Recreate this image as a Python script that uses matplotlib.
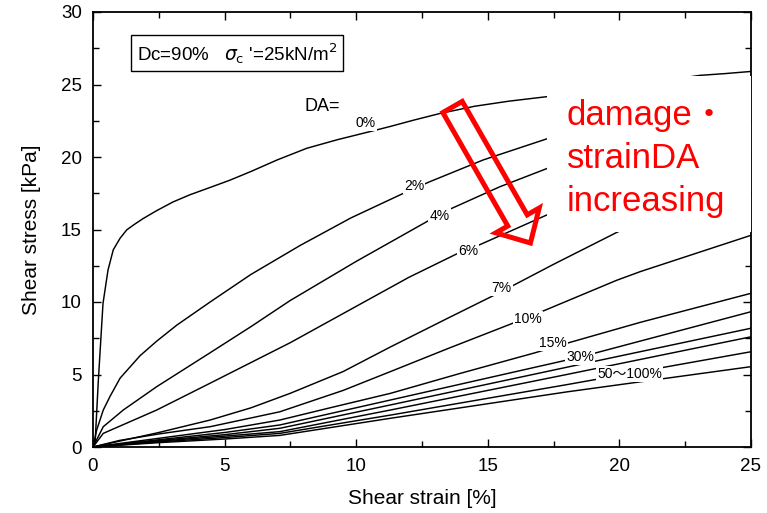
import numpy as np
import matplotlib
matplotlib.use("Agg")
import matplotlib.pyplot as plt
from matplotlib.patches import Rectangle, Polygon
from matplotlib.ticker import MultipleLocator

plt.rcParams['font.family'] = ['Liberation Sans', 'Noto Sans CJK JP', 'DejaVu Sans']

# Shear stress-strain curves for each double-amplitude damage strain (DA)
strain_da0 = [0, 0.08, 0.2, 0.38, 0.57, 0.77, 1.03, 1.28, 1.53, 1.9, 2.42, 3.04, 3.69, 4.45,
              5.2, 6.0, 7.0, 8.12, 9.3, 10.52, 11.28, 12.2, 13.18, 14.5, 15.8, 17.24,
              19.0, 21.0, 23.06, 24.0, 25.0]
stress_da0 = [0, 0.3, 4.5, 9.9, 12.2, 13.6, 14.4, 14.97, 15.3, 15.75, 16.3, 16.9, 17.4, 17.9,
              18.4, 19.0, 19.8, 20.6, 21.2, 21.75, 22.1, 22.55, 23.0, 23.5, 23.85, 24.16,
              24.6, 25.1, 25.63, 25.75, 25.9]

strain_da2 = [0, 0.14, 0.39, 0.65, 1.03, 1.79, 2.42, 3.18, 4.45, 6.0, 7.87, 9.8, 11.8, 12.8, 14.83, 17.24]
stress_da2 = [0, 1.17, 2.55, 3.5, 4.75, 6.3, 7.3, 8.4, 10.0, 11.9, 13.9, 15.8, 17.5, 18.3, 19.8, 21.25]

strain_da4 = [0, 0.39, 1.15, 2.42, 4.45, 6.0, 7.49, 10.0, 12.74, 13.56, 15.46, 17.24]
stress_da4 = [0, 1.4, 2.55, 4.16, 6.5, 8.3, 10.1, 12.8, 15.6, 16.4, 17.95, 19.2]

strain_da6 = [0, 0.39, 2.42, 4.45, 7.5, 10.4, 12.0, 13.8, 14.63, 16.0, 17.24]
stress_da6 = [0, 0.94, 2.55, 4.4, 7.2, 10.1, 11.7, 13.3, 13.9, 15.0, 16.0]

strain_da7 = [0, 1.0, 2.5, 4.45, 6.0, 7.49, 9.5, 11.3, 13.5, 15.5, 17.5, 19.9, 20.5]
stress_da7 = [0, 0.4, 1.0, 1.86, 2.7, 3.7, 5.2, 6.9, 8.9, 10.7, 12.6, 14.8, 15.3]

strain_da10 = [0, 1.0, 2.5, 4.45, 7.1, 7.49, 9.5, 11.3, 13.5, 15.9, 17.0, 19.9, 20.8, 25]
stress_da10 = [0, 0.45, 0.9, 1.4, 2.43, 2.67, 3.9, 5.2, 6.8, 8.5, 9.3, 11.5, 12.1, 14.6]

strain_da15 = [0, 2.5, 5.0, 7.1, 9.0, 11.3, 14.0, 16.8, 17.9, 20.8, 25]
stress_da15 = [0, 0.6, 1.2, 1.86, 2.7, 3.7, 5.1, 6.5, 7.1, 8.6, 10.6]

strain_da30 = [0, 2.5, 5.0, 7.1, 11.3, 18.5, 25]
stress_da30 = [0, 0.5, 1.0, 1.52, 3.24, 6.2, 9.33]

strain_da50 = [0, 2.5, 5.0, 7.1, 11.3, 18.0, 25]
stress_da50 = [0, 0.45, 0.85, 1.29, 2.9, 5.5, 8.19]

strain_da60 = [0, 2.5, 5.0, 7.1, 11.3, 18.0, 25]
stress_da60 = [0, 0.4, 0.75, 1.06, 2.55, 5.0, 7.6]

strain_da80 = [0, 2.5, 5.0, 7.1, 11.3, 18.0, 25]
stress_da80 = [0, 0.35, 0.65, 0.94, 2.2, 4.3, 6.57]

strain_da100 = [0, 2.5, 5.0, 7.1, 11.3, 18.0, 25]
stress_da100 = [0, 0.3, 0.55, 0.8, 1.98, 3.8, 5.54]

curve_strains = [strain_da0, strain_da2, strain_da4, strain_da6, strain_da7, strain_da10,
                 strain_da15, strain_da30, strain_da50, strain_da60, strain_da80, strain_da100]
curve_stresses = [stress_da0, stress_da2, stress_da4, stress_da6, stress_da7, stress_da10,
                  stress_da15, stress_da30, stress_da50, stress_da60, stress_da80, stress_da100]

# Inline curve labels: text and (strain, stress) anchor
label_texts = ['0%', '2%', '4%', '6%', '7%', '10%', '15%', '30%', '50〜100%']
label_x = [10.35, 12.2, 13.17, 14.25, 15.52, 16.53, 17.48, 18.5, 20.4]
label_y = [22.35, 18.0, 15.9, 13.5, 11.0, 8.83, 7.17, 6.2, 5.03]

x_ticks = [0, 5, 10, 15, 20, 25]
y_ticks = [0, 5, 10, 15, 20, 25, 30]

W, H = 767, 513
fig = plt.figure(figsize=(W / 100, H / 100), dpi=100)
ax = fig.add_axes([93 / W, 1 - 447 / H, (751 - 93) / W, (447 - 12) / H])

for xs, ys in zip(curve_strains, curve_stresses):
    ax.plot(xs, ys, color='black', lw=1.05, zorder=2)

for t, lx, ly in zip(label_texts, label_x, label_y):
    ax.text(lx, ly, t, fontsize=10, ha='center', va='center', zorder=4,
            bbox=dict(boxstyle='square,pad=0.08', fc='white', ec='none'))

ax.set_xlim(0, 25)
ax.set_ylim(0, 30)
ax.set_xticks(x_ticks)
ax.set_yticks(y_ticks)
ax.xaxis.set_minor_locator(MultipleLocator(2.5))
ax.yaxis.set_minor_locator(MultipleLocator(2.5))
ax.tick_params(which='both', direction='in', top=True, right=True, labelsize=13.5, width=1.0)
ax.tick_params(which='major', length=6, pad=8)
ax.tick_params(which='minor', length=4)
for s in ax.spines.values():
    s.set_linewidth(1.3)

ax.set_xlabel('Shear strain [%]', fontsize=15, labelpad=10)
ax.set_ylabel('Shear stress [kPa]', fontsize=15, labelpad=14)

# Test condition box
ax.text(0.067, 0.905, "Dc=90%   $\\sigma_{\\rm c}$ '=25kN/m$^2$", transform=ax.transAxes,
        fontsize=13.5, ha='left', va='center', zorder=5,
        bbox=dict(boxstyle='square,pad=0.3', fc='white', ec='black', lw=1.0))
ax.text(8.05, 23.5, 'DA=', fontsize=13, ha='left', va='center', zorder=5)

# White panel behind the red annotation
panel = Rectangle((17.25, 14.85), 8.0, 10.75, facecolor='white', edgecolor='none', zorder=3)
ax.add_patch(panel)
ax.text(18.0, 19.9, 'damage・\nstrainDA\nincreasing', color='#ff0000', fontsize=25,
        ha='left', va='center', linespacing=1.4, zorder=5)

# Hollow red arrow drawn in pixel space so its shape is not distorted
tail = ax.transData.transform((13.66, 23.45))
tip = ax.transData.transform((16.62, 14.07))
d = tip - tail
L = np.hypot(*d)
u = d / L
n = np.array([u[1], -u[0]])
shaft_hw, head_hw, head_len = 11.2, 25.0, 26.0
base = tip - u * head_len
verts = [tail + n * shaft_hw, base + n * shaft_hw, base + n * head_hw, tip,
         base - n * head_hw, base - n * shaft_hw, tail - n * shaft_hw]
arrow = Polygon(verts, closed=True, fill=False, ec='#ff0000', lw=3.6,
                joinstyle='miter', transform=None, zorder=6)
fig.patches.append(arrow)

fig.savefig('out.png', dpi=100)
